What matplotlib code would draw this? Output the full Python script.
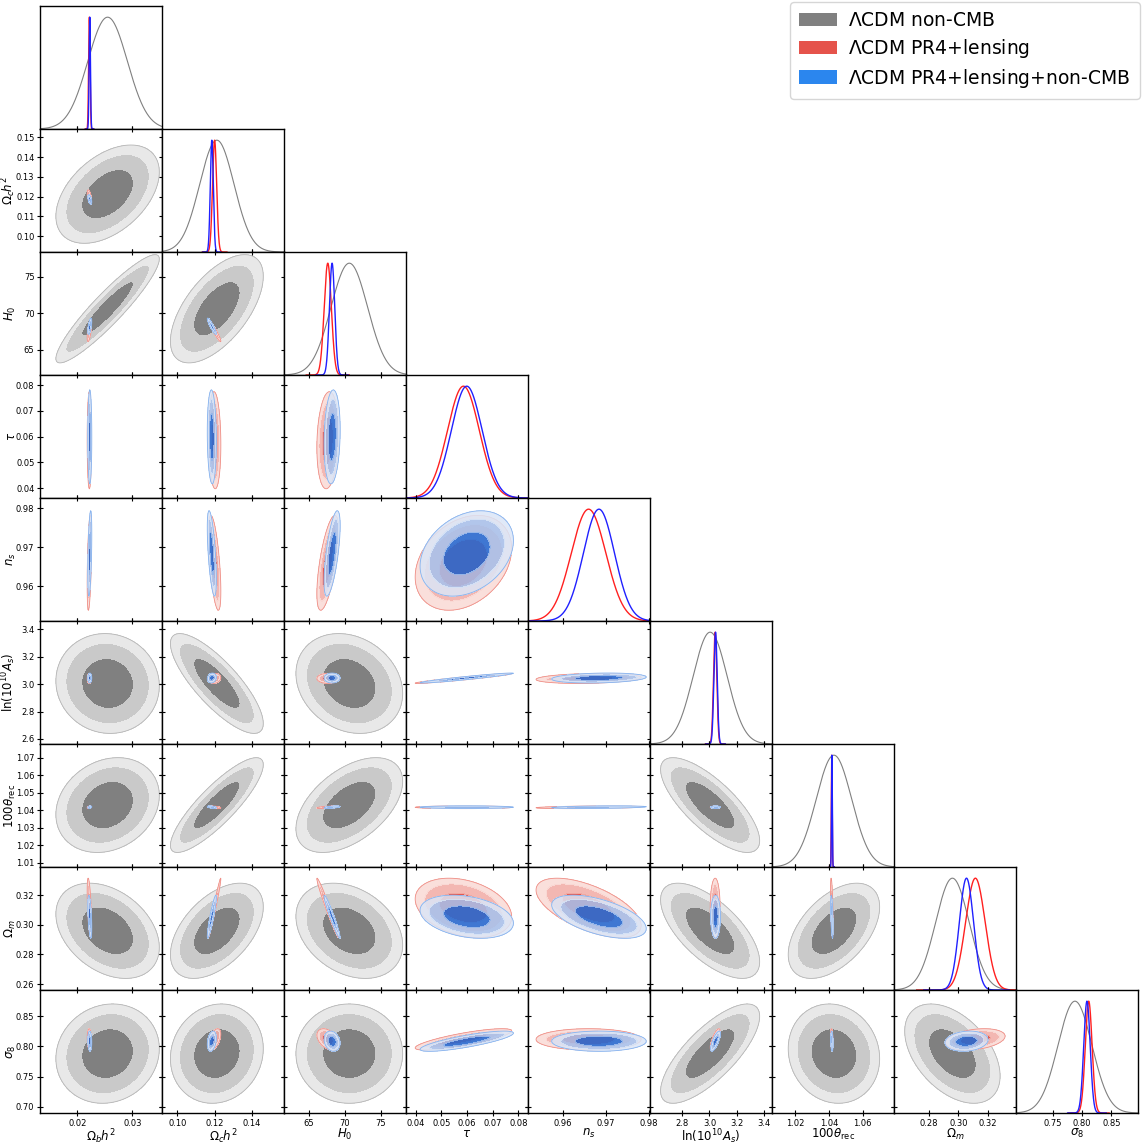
import numpy as np
import matplotlib
matplotlib.use("Agg")
import matplotlib.pyplot as plt
from matplotlib.patches import Patch

# Parameter names (axis labels) in triangle order
labels = [r'$\Omega_b h^2$', r'$\Omega_c h^2$', r'$H_0$', r'$\tau$', r'$n_s$',
          r'$\ln(10^{10} A_s)$', r'$100\theta_{\rm rec}$', r'$\Omega_m$', r'$\sigma_8$']

# Axis ranges (x range used in columns, y range in rows)
xlims = [(0.0132, 0.0354), (0.0918, 0.1572), (61.5, 78.5), (0.0362, 0.0838), (0.9520, 0.9802),
         (2.563, 3.460), (1.0064, 1.0785), (0.2566, 0.3389), (0.6874, 0.8956)]
ylims = [(0.0132, 0.0354), (0.0919, 0.1542), (61.5, 78.4), (0.0362, 0.0839), (0.9511, 0.9826),
         (2.5635, 3.461), (1.0077, 1.0778), (0.2560, 0.3391), (0.6900, 0.8930)]
xticks = [[0.02, 0.03], [0.10, 0.12, 0.14], [65, 70, 75], [0.04, 0.05, 0.06, 0.07, 0.08],
          [0.96, 0.97, 0.98], [2.8, 3.0, 3.2, 3.4], [1.02, 1.04, 1.06], [0.28, 0.30, 0.32],
          [0.75, 0.80, 0.85]]
yticks = [[0.02, 0.03], [0.10, 0.11, 0.12, 0.13, 0.14, 0.15], [65, 70, 75],
          [0.04, 0.05, 0.06, 0.07, 0.08], [0.96, 0.97, 0.98], [2.6, 2.8, 3.0, 3.2, 3.4],
          [1.01, 1.02, 1.03, 1.04, 1.05, 1.06, 1.07], [0.26, 0.28, 0.30, 0.32],
          [0.70, 0.75, 0.80, 0.85]]
decimals = [2, 2, 0, 2, 2, 1, 2, 2, 2]

nan = np.nan

# LCDM non-CMB (no tau, n_s constraint)
noncmb_mean = [0.0255, 0.1212, 70.6, nan, nan, 3.005, 1.0430, 0.2960, 0.788]
noncmb_std = [0.0031, 0.0082, 2.45, nan, nan, 0.120, 0.0089, 0.0106, 0.027]
# the 1D marginals of non-CMB are flatter, read their widths separately
noncmb_std_1d = [0.0036, 0.0092, 2.55, nan, nan, 0.125, 0.0105, 0.0113, 0.029]
noncmb_corr = [[],
               [0.45],
               [0.92, 0.60],
               [nan, nan, nan],
               [nan, nan, nan, nan],
               [-0.05, -0.80, -0.20, nan, nan],
               [0.20, 0.85, 0.50, nan, nan, -0.75],
               [-0.35, 0.50, -0.30, nan, nan, -0.65, 0.50],
               [0.10, 0.10, 0.00, nan, nan, 0.75, -0.10, -0.45]]

# LCDM PR4+lensing
pr4_mean = [0.02218, 0.1200, 67.6, 0.0586, 0.9660, 3.042, 1.04172, 0.3115, 0.8115]
pr4_std = [0.00013, 0.0011, 0.50, 0.0062, 0.0040, 0.012, 0.00025, 0.0066, 0.0058]
pr4_corr = [[],
            [-0.50],
            [0.60, -0.95],
            [0.00, -0.10, 0.15],
            [0.45, -0.60, 0.65, 0.30],
            [0.00, 0.15, 0.00, 0.95, 0.20],
            [0.30, -0.45, 0.50, 0.00, 0.35, 0.00],
            [-0.55, 0.98, -0.98, -0.30, -0.60, 0.00, -0.50],
            [-0.10, 0.50, -0.40, 0.80, 0.00, 0.75, -0.20, 0.30]]

# LCDM PR4+lensing+non-CMB
joint_mean = [0.02226, 0.1185, 68.2, 0.0599, 0.9684, 3.045, 1.04180, 0.3055, 0.8085]
joint_std = [0.00012, 0.0008, 0.37, 0.0060, 0.0036, 0.012, 0.00024, 0.0048, 0.0055]
joint_corr = [[],
              [-0.50],
              [0.60, -0.90],
              [0.00, -0.10, 0.15],
              [0.45, -0.60, 0.65, 0.30],
              [0.00, 0.15, 0.00, 0.95, 0.20],
              [0.30, -0.45, 0.50, 0.00, 0.35, 0.00],
              [-0.50, 0.90, -0.96, -0.30, -0.55, 0.00, -0.50],
              [-0.10, 0.30, -0.20, 0.80, 0.00, 0.75, -0.20, 0.15]]

legend_labels = [r'$\Lambda$CDM non-CMB', r'$\Lambda$CDM PR4+lensing',
                 r'$\Lambda$CDM PR4+lensing+non-CMB']

# style per dataset: line colour, fills (inner, mid, outer), edge, alpha, legend colour
styles = [
    dict(line='#808080', fills=['#808080', '#c9c9c9', '#e8e8e8'], edge='#b5b5b5', alpha=1.0,
         patch='#808080', lw=0.8),
    dict(line='#ff2020', fills=['#e3473d', '#f2b0aa', '#fadcd8'], edge='#ef8f87', alpha=0.9,
         patch='#e5534b', lw=1.0),
    dict(line='#2020ff', fills=['#1f6cd8', '#a6c2ee', '#dbe6f7'], edge='#86b2ee', alpha=0.85,
         patch='#2b86ee', lw=1.0),
]
datasets = [(noncmb_mean, noncmb_std, noncmb_corr),
            (pr4_mean, pr4_std, pr4_corr),
            (joint_mean, joint_std, joint_corr)]
widths_1d = [noncmb_std_1d, pr4_std, joint_std]

# 2D levels (68, 95, 99 per cent)
chi2_levels = [0, 2.30, 5.99, 9.21]

n = len(labels)
fig = plt.figure(figsize=(11.44, 11.46), dpi=100)
gs = fig.add_gridspec(n, n, left=40 / 1144, right=1138 / 1144,
                      top=1 - 6 / 1146, bottom=1 - 1113 / 1146, wspace=0, hspace=0)


def fmt(vals, d):
    return ['%.*f' % (d, v) for v in vals]


tick_kw = dict(direction='inout', length=5, width=0.8, labelsize=6, pad=1.5)

for i in range(n):
    for j in range(i + 1):
        ax = fig.add_subplot(gs[i, j])
        for s in ax.spines.values():
            s.set_linewidth(1.0)
        ax.set_xlim(xlims[j])
        ax.set_xticks(xticks[j])
        if i == n - 1:
            ax.set_xticklabels(fmt(xticks[j], decimals[j]))
            ax.set_xlabel(labels[j], fontsize=8.5)
            # top of the label ~14 px under the bottom spine
            ax.xaxis.set_label_coords(0.5, -14 / 123)
        else:
            ax.set_xticklabels([])

        if i == j:
            # 1D marginal
            for (mean, std, corr), w1d, st in zip(datasets, widths_1d, styles):
                m, s = mean[j], w1d[j]
                if np.isnan(m):
                    continue
                x = np.linspace(m - 6 * s, m + 6 * s, 600)
                ax.plot(x, np.exp(-0.5 * ((x - m) / s) ** 2), color=st['line'], lw=st['lw'])
            ax.set_ylim(0, 1.1)
            ax.set_yticks([])
            ax.tick_params(axis='x', **tick_kw)
            continue

        # 2D panel
        for k, ((mean, std, corr), st) in enumerate(zip(datasets, styles)):
            mx, my = mean[j], mean[i]
            sx, sy = std[j], std[i]
            rho = corr[i][j]
            if np.isnan(mx) or np.isnan(my):
                continue
            gx = np.linspace(mx - 4.5 * sx, mx + 4.5 * sx, 240)
            gy = np.linspace(my - 4.5 * sy, my + 4.5 * sy, 240)
            X, Y = np.meshgrid(gx, gy)
            dx, dy = (X - mx) / sx, (Y - my) / sy
            chi2 = (dx ** 2 - 2 * rho * dx * dy + dy ** 2) / (1 - rho ** 2)
            ax.contourf(X, Y, chi2, levels=chi2_levels, colors=st['fills'],
                        alpha=st['alpha'], zorder=1 + k)
            ax.contour(X, Y, chi2, levels=[chi2_levels[-1]], colors=[st['edge']],
                       linewidths=0.6, zorder=1 + k)
        ax.set_ylim(ylims[i])
        ax.set_yticks(yticks[i])
        if j == 0:
            ax.set_yticklabels(fmt(yticks[i], decimals[i]))
            ax.set_ylabel(labels[i], fontsize=8.5)
            # right edge of the rotated label at ~18 px from the figure edge
            ax.yaxis.set_label_coords(-22 / 122, 0.5)
        else:
            ax.set_yticklabels([])
        ax.tick_params(top=True, right=True, **tick_kw)

handles = [Patch(facecolor=st['patch'], edgecolor='none') for st in styles]
fig.legend(handles, legend_labels, loc='upper right', bbox_to_anchor=(1140 / 1144, 1 - 2 / 1146),
           borderaxespad=0, fontsize=13.5, frameon=True, fancybox=True, handlelength=2.0,
           handletextpad=0.6, borderpad=0.5, labelspacing=0.35)

fig.savefig('out.png', dpi=100)
